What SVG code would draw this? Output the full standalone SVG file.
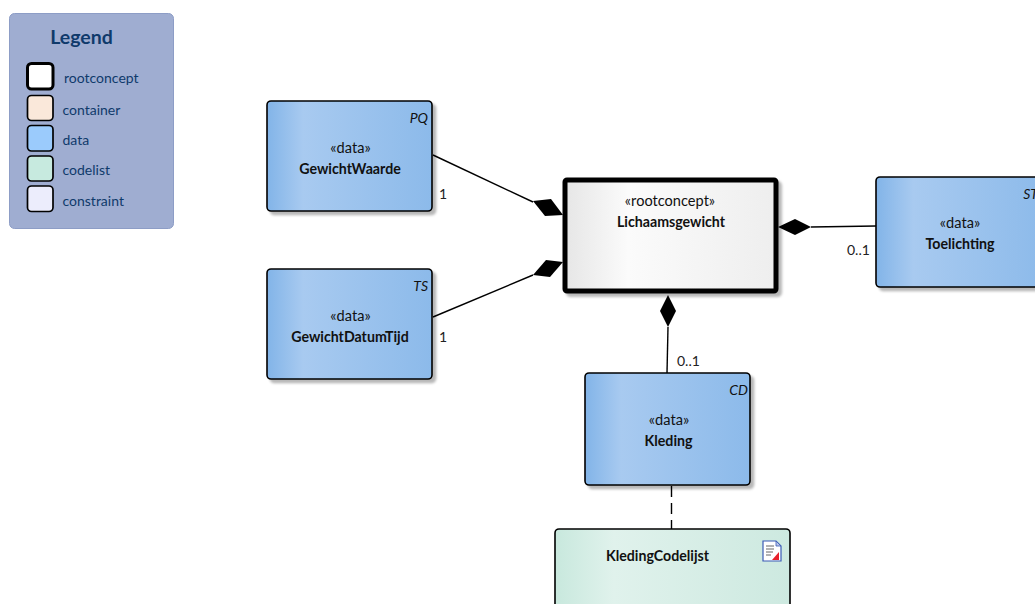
<svg xmlns="http://www.w3.org/2000/svg" width="1035" height="604" viewBox="0 0 1035 604">
<style>
text{font-family:"Lato","Carlito","Liberation Sans",sans-serif;font-size:14.6px;fill:#111;text-anchor:middle}
.b{font-weight:700;font-size:14.2px}
.leg{fill:#0f3a6b;text-anchor:start;font-size:14px}
.tag{font-style:italic;text-anchor:end;font-size:14px}
.m{text-anchor:start;font-size:14px;fill:#222}
.sw{stroke:#000;stroke-width:1.7}
.box{fill:url(#blue);stroke:#000;stroke-width:1.6;filter:url(#sh)}
.c{fill:none;stroke:#000;stroke-width:1.4}
</style>
<defs>
<linearGradient id="blue"><stop offset="0" stop-color="#82b4e8"/><stop offset=".22" stop-color="#a8caf0"/><stop offset="1" stop-color="#8cbaea"/></linearGradient>
<linearGradient id="grey"><stop offset="0" stop-color="#e6e6e6"/><stop offset=".3" stop-color="#fbfbfb"/><stop offset="1" stop-color="#eeeeee"/></linearGradient>
<linearGradient id="green"><stop offset="0" stop-color="#c8e8dd"/><stop offset=".25" stop-color="#e0f2ec"/><stop offset="1" stop-color="#cde9e0"/></linearGradient>
<filter id="sh" x="-5%" y="-5%" width="115%" height="120%"><feDropShadow dx="3.5" dy="3.5" stdDeviation="1.2" flood-color="#000" flood-opacity=".28"/></filter>
</defs>
<g id="legend">
<rect x="9.5" y="13.5" width="164" height="215" rx="5" fill="#9fadd1" stroke="#8d9dc6"/>
<text x="81.500" y="44" style="font-weight:700;font-size:19.500px;fill:#0f3a6b">Legend</text>
<rect class="sw" x="27.500" y="63.500" width="25.500" height="25.500" rx="4" fill="#fff" style="stroke-width:3"/>
<text class="leg" x="64" y="83">rootconcept</text>
<rect class="sw" x="27.500" y="95.500" width="25.500" height="25" rx="4" fill="#fae8da"/>
<text class="leg" x="62.500" y="115">container</text>
<rect class="sw" x="27.500" y="125.500" width="25.500" height="25.500" rx="4" fill="#9bcbfc"/>
<text class="leg" x="62.500" y="145">data</text>
<rect class="sw" x="27.500" y="156" width="25.500" height="25" rx="4" fill="#c7eadf"/>
<text class="leg" x="62.500" y="175">codelist</text>
<rect class="sw" x="27.500" y="186" width="25.500" height="25.500" rx="4" fill="#ecedfc"/>
<text class="leg" x="62.500" y="206">constraint</text>
</g>
<g id="connectors">
<path class="c" d="M433 155 L533 202"/>
<path d="M533 201 L551 199 L563 215 L545 216 Z"/>
<path class="c" d="M433 317 L533 275"/>
<path d="M533 275 L546 260 L563 262 L550 277 Z"/>
<path class="c" d="M811 227 L876 226"/>
<path d="M778 227 L795 219 L811 227 L795 235 Z"/>
<path class="c" d="M668 327 L667 373"/>
<path d="M668 295 L676 311 L668 327 L660 311 Z"/>
<path class="c" d="M671.500 486 L671.500 529" stroke-dasharray="11 6"/>
<text class="m" x="439" y="199">1</text>
<text class="m" x="439" y="342">1</text>
<text class="m" x="847" y="255">0..1</text>
<text class="m" x="677" y="366">0..1</text>
</g>
<g id="GewichtWaarde">
<rect class="box" x="267" y="101" width="165" height="110" rx="4"/>
<text class="tag" x="428" y="123">PQ</text>
<text x="350.500" y="153">«data»</text>
<text class="b" x="350" y="174">GewichtWaarde</text>
</g>
<g id="GewichtDatumTijd">
<rect class="box" x="267" y="269" width="165" height="110" rx="4"/>
<text class="tag" x="428" y="291">TS</text>
<text x="350.500" y="321">«data»</text>
<text class="b" x="350" y="342">GewichtDatumTijd</text>
</g>
<g id="Lichaamsgewicht">
<rect x="565" y="180" width="211" height="111" rx="2" fill="url(#grey)" stroke="#000" stroke-width="5" filter="url(#sh)"/>
<text x="670" y="206">«rootconcept»</text>
<text class="b" x="671" y="227">Lichaamsgewicht</text>
</g>
<g id="Toelichting">
<rect class="box" x="876" y="177" width="170" height="110" rx="4"/>
<text class="tag" x="1038" y="199">ST</text>
<text x="960" y="228">«data»</text>
<text class="b" x="960" y="249">Toelichting</text>
</g>
<g id="Kleding">
<rect class="box" x="585" y="373" width="165" height="112" rx="4"/>
<text class="tag" x="748" y="395">CD</text>
<text x="669" y="425">«data»</text>
<text class="b" x="668.500" y="446">Kleding</text>
</g>
<g id="KledingCodelijst">
<rect x="555" y="529" width="235" height="90" rx="4" fill="url(#green)" stroke="#000" stroke-width="1.600"/>
<text class="b" x="657.500" y="561">KledingCodelijst</text>
<path d="M763 541 H776 L781 546 V561 H763 Z" fill="#fff" stroke="#3b5bb5" stroke-width="1.200"/>
<path d="M776 541 V546 H781 Z" fill="#b9c6ea" stroke="#3b5bb5" stroke-width=".8"/>
<path d="M766 546 H774 M766 549 H774 M766 552 H773 M766 555 H771" stroke="#666" stroke-width="1"/>
<path d="M772 560 L779 552 V560 Z" fill="#e8202a"/>
</g>
</svg>
